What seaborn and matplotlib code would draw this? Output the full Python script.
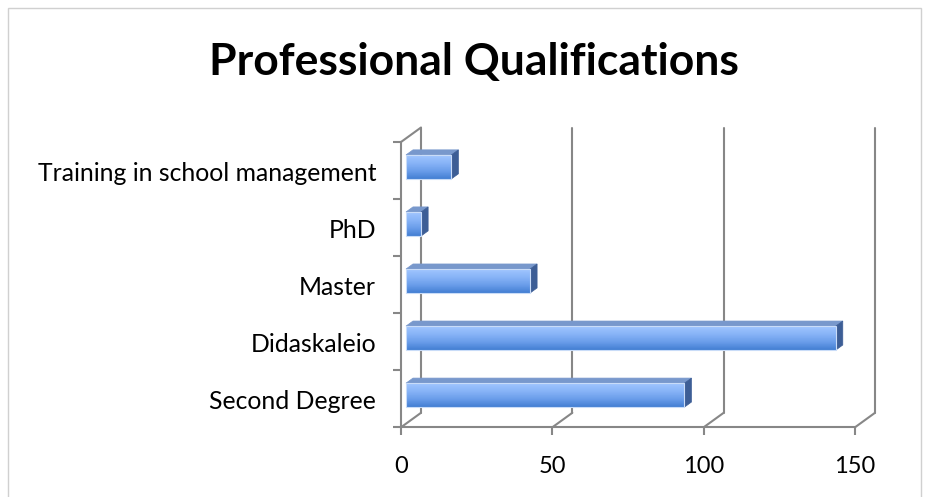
import numpy as np
import matplotlib
matplotlib.use("Agg")
import matplotlib.pyplot as plt
import seaborn as sns
from matplotlib.patches import Polygon, Rectangle
from matplotlib.lines import Line2D
from matplotlib.colors import LinearSegmentedColormap
from matplotlib.transforms import ScaledTranslation

# ---- data ----
categories = ["Training in school management", "PhD", "Master", "Didaskaleio", "Second Degree"]
values = [15, 5, 41, 142, 92]
x_ticks = [0, 50, 100, 150]
title = "Professional Qualifications"

sns.set_theme(style="white")
plt.rcParams['font.family'] = ['Lato', 'DejaVu Sans']

W, H = 930, 497
fig = plt.figure(figsize=(W / 100, H / 100), dpi=100)
fig.patch.set_facecolor("white")

# axes (front plane)
x_left, x_right = 401, 855
y_top, y_bot = 142, 427.3
ax = fig.add_axes([x_left / W, (H - y_bot) / H, (x_right - x_left) / W, (y_bot - y_top) / H])
ax.set_facecolor("none")

sns.barplot(x=values, y=categories, orient="h", width=0.42, color="#5B93E3", ax=ax,
            saturation=1, edgecolor="none", linewidth=0, zorder=3)

ax.set_xlim(0, 150)
ax.set_ylim(4.5, -0.5)

# depth offsets in data units (20 px right, 14.5 px up)
px_x = (x_right - x_left) / 150.0
px_y = (y_bot - y_top) / 5.0
DXd = 20 / px_x
DYd = 14.5 / px_y

def dep(x, y, d):
    return (x + d * DXd, y - d * DYd)

grid_col = "#878787"
lw = 1.5

# back wall gridlines and floor diagonals
for v in x_ticks:
    p0 = dep(v, 4.5, 1.0)
    p1 = dep(v, -0.5, 1.0)
    ax.add_line(Line2D([p0[0], p1[0]], [p0[1], p1[1]], color=grid_col, lw=lw, clip_on=False, zorder=1))
    f = dep(v, 4.5, 0.0)
    ax.add_line(Line2D([f[0], p0[0]], [f[1], p0[1]], color=grid_col, lw=lw, clip_on=False, zorder=1))
# left wall top diagonal
a = dep(0, -0.5, 0.0)
b = dep(0, -0.5, 1.0)
ax.add_line(Line2D([a[0], b[0]], [a[1], b[1]], color=grid_col, lw=lw, clip_on=False, zorder=1))

# 3D bars
d0, d1 = 0.25, 0.6
grad = np.linspace(0, 1, 64).reshape(-1, 1)
cmap = LinearSegmentedColormap.from_list("barg", ["#A0C5FF", "#88B4F7", "#6A9DEA", "#437FD3"])
for p in list(ax.patches):
    x0 = p.get_x()
    w = p.get_width()
    yb = p.get_y()
    h = p.get_height()
    nx, ny = dep(x0, yb, d0)
    p.set_x(nx)
    p.set_y(ny)
    p.set_facecolor("#6C9EEA")
    X0, X1 = nx, nx + w
    Yt, Yb = ny, ny + h
    im = ax.imshow(grad, extent=[X0, X1, Yb, Yt], aspect="auto", cmap=cmap,
                   zorder=3.5, clip_on=False, interpolation="bilinear")
    im.set_clip_path(p)
    ax.add_patch(Rectangle((X0, Yt), w, h, fill=False, edgecolor="#C9DCF8", lw=0.8, zorder=3.6, clip_on=False))
    dd = d1 - d0
    t0 = (X0, Yt); t1 = (X1, Yt)
    t2 = (X1 + dd * DXd, Yt - dd * DYd)
    t3 = (X0 + dd * DXd, Yt - dd * DYd)
    ax.add_patch(Polygon([t0, t1, t2, t3], closed=True, facecolor="#7898CC", edgecolor="#7898CC",
                         lw=0.5, zorder=3.4, clip_on=False))
    s0 = (X1, Yt); s1 = (X1, Yb)
    s2 = (X1 + dd * DXd, Yb - dd * DYd)
    ax.add_patch(Polygon([s0, s1, s2, t2], closed=True, facecolor="#3D5E96", edgecolor="#3D5E96",
                         lw=0.5, zorder=3.4, clip_on=False))

ax.set_xlim(0, 150)
ax.set_ylim(4.5, -0.5)

for s in ["top", "right"]:
    ax.spines[s].set_visible(False)
for s in ["left", "bottom"]:
    ax.spines[s].set_color(grid_col)
    ax.spines[s].set_linewidth(lw)

ax.set_xticks(x_ticks)
ax.set_xticklabels([str(t) for t in x_ticks], fontsize=17, color="black")
ax.tick_params(axis="x", direction="out", length=6, width=lw, color=grid_col, pad=15, bottom=True)
ax.set_yticks(range(len(categories)))
ax.set_yticklabels(categories, fontsize=17.8, color="black", va="center")
ax.tick_params(axis="y", length=0, pad=18, left=False)
ax.set_yticks(np.arange(-0.5, 5.0, 1.0), minor=True)
ax.tick_params(axis="y", which="minor", direction="out", length=6, width=lw, color=grid_col, left=True)
ax.set_xlabel("")
ax.set_ylabel("")
ax.grid(False)
shift = ScaledTranslation(0, -3 / 100, fig.dpi_scale_trans)
for lab in ax.get_yticklabels():
    lab.set_transform(lab.get_transform() + shift)

fig.text(474 / W, 1 - 62 / H, title, ha="center", va="center", fontsize=32, fontweight="bold", color="black")

fig.patches.append(Rectangle((8 / W, -0.1), (921 - 8) / W, 1.1 - 8 / H, transform=fig.transFigure,
                             fill=False, edgecolor="#D0D0D0", lw=1.0))

fig.savefig("out.png", dpi=100)
